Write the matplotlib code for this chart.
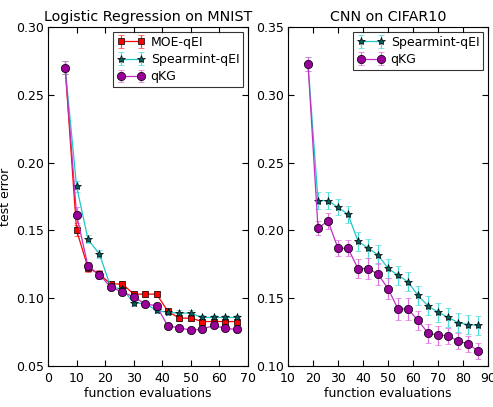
import numpy as np
import matplotlib
matplotlib.use("Agg")
import matplotlib.pyplot as plt

# Logistic regression on MNIST
mnist_x = [6, 10, 14, 18, 22, 26, 30, 34, 38, 42, 46, 50, 54, 58, 62, 66]
moe_mnist = [0.270, 0.150, 0.1225, 0.1176, 0.1105, 0.1105, 0.103, 0.103, 0.103,
             0.0902, 0.0853, 0.0853, 0.0828, 0.0828, 0.0828, 0.0828]
moe_mnist_err = [0.005, 0.004, 0.003, 0.003, 0.002, 0.002, 0.002, 0.002, 0.002,
                 0.002, 0.002, 0.002, 0.002, 0.002, 0.002, 0.002]
spear_mnist = [0.270, 0.1824, 0.1434, 0.1324, 0.108, 0.1069, 0.0966, 0.096, 0.091,
               0.0895, 0.089, 0.089, 0.0858, 0.0858, 0.0858, 0.0858]
spear_mnist_err = [0.005, 0.004, 0.003, 0.003, 0.002, 0.002, 0.002, 0.002, 0.002,
                   0.002, 0.002, 0.002, 0.002, 0.002, 0.002, 0.002]
qkg_mnist = [0.270, 0.1613, 0.1235, 0.1174, 0.108, 0.1047, 0.101, 0.0958, 0.0944,
             0.0792, 0.0784, 0.0762, 0.0772, 0.0799, 0.0777, 0.077]
qkg_mnist_err = [0.005, 0.006, 0.003, 0.003, 0.002, 0.002, 0.002, 0.002, 0.002,
                 0.002, 0.002, 0.002, 0.002, 0.002, 0.002, 0.002]

# CNN on CIFAR10
cifar_x = [18, 22, 26, 30, 34, 38, 42, 46, 50, 54, 58, 62, 66, 70, 74, 78, 82, 86]
spear_cifar = [0.3227, 0.222, 0.222, 0.217, 0.2118, 0.192, 0.187, 0.1819, 0.172,
               0.167, 0.162, 0.152, 0.1443, 0.1397, 0.136, 0.132, 0.1306, 0.1299]
spear_cifar_err = [0.005, 0.006, 0.006, 0.006, 0.006, 0.007, 0.007, 0.007, 0.007,
                   0.007, 0.007, 0.007, 0.007, 0.007, 0.007, 0.007, 0.007, 0.007]
qkg_cifar = [0.3227, 0.2017, 0.2069, 0.1868, 0.1868, 0.1718, 0.1718, 0.1677, 0.1571,
             0.142, 0.142, 0.1336, 0.1243, 0.1228, 0.1223, 0.1184, 0.1164, 0.111]
qkg_cifar_err = [0.005, 0.005, 0.006, 0.006, 0.006, 0.007, 0.008, 0.008, 0.008,
                 0.008, 0.008, 0.007, 0.007, 0.007, 0.006, 0.006, 0.006, 0.006]

plt.rcParams['font.family'] = 'DejaVu Sans'
plt.rcParams['xtick.direction'] = 'in'
plt.rcParams['ytick.direction'] = 'in'
plt.rcParams['xtick.top'] = True
plt.rcParams['ytick.right'] = True
plt.rcParams['xtick.major.size'] = 4
plt.rcParams['ytick.major.size'] = 4
plt.rcParams['xtick.major.pad'] = 4
plt.rcParams['ytick.major.pad'] = 3

fig = plt.figure(figsize=(4.93, 4.07), dpi=100)
ax1 = fig.add_axes([0.0974, 0.1007, 0.4057, 0.833])
ax2 = fig.add_axes([0.5842, 0.1007, 0.4057, 0.833])

styles = {
    'MOE-qEI': dict(color='red', ecolor='#ff4040', marker='s', mfc='red', ms=5),
    'Spearmint-qEI': dict(color='#20c8c8', ecolor='#50dada', marker='*', mfc='#006060', ms=6),
    'qKG': dict(color='#c030c0', ecolor='#e070e0', marker='o', mfc='#990099', ms=6),
}


def draw(ax, x, y, err, label):
    st = styles[label]
    ax.errorbar(x, y, yerr=err, color=st['color'], ecolor=st['ecolor'],
                marker=st['marker'], markerfacecolor=st['mfc'],
                markeredgecolor='k', markeredgewidth=0.5, markersize=st['ms'],
                linewidth=0.9, elinewidth=0.9, capsize=2.5, capthick=0.9,
                label=label)


draw(ax1, mnist_x, moe_mnist, moe_mnist_err, 'MOE-qEI')
draw(ax1, mnist_x, spear_mnist, spear_mnist_err, 'Spearmint-qEI')
draw(ax1, mnist_x, qkg_mnist, qkg_mnist_err, 'qKG')

draw(ax2, cifar_x, spear_cifar, spear_cifar_err, 'Spearmint-qEI')
draw(ax2, cifar_x, qkg_cifar, qkg_cifar_err, 'qKG')

ax1.set_xlim(0, 70)
ax1.set_ylim(0.05, 0.30)
ax1.set_xticks(np.arange(0, 71, 10))
ax1.set_yticks(np.arange(0.05, 0.301, 0.05))
ax1.set_yticklabels(['0.05', '0.10', '0.15', '0.20', '0.25', '0.30'])
ax1.set_title('Logistic Regression on MNIST', fontsize=10.3, pad=4)
ax1.set_xlabel('function evaluations', fontsize=9, labelpad=2)
ax1.set_ylabel('test error', fontsize=9, labelpad=3)

ax2.set_xlim(10, 90)
ax2.set_ylim(0.10, 0.35)
ax2.set_xticks(np.arange(10, 91, 10))
ax2.set_yticks(np.arange(0.10, 0.351, 0.05))
ax2.set_yticklabels(['0.10', '0.15', '0.20', '0.25', '0.30', '0.35'])
ax2.set_title('CNN on CIFAR10', fontsize=10.3, pad=4)
ax2.set_xlabel('function evaluations', fontsize=9, labelpad=2)

for ax in (ax1, ax2):
    ax.tick_params(labelsize=9)
    leg = ax.legend(loc='upper right', numpoints=2, fontsize=9, fancybox=False,
                    borderaxespad=0.4, handlelength=2.2, labelspacing=0.35,
                    borderpad=0.3, handletextpad=0.5)
    leg.get_frame().set_edgecolor('k')
    leg.get_frame().set_linewidth(0.8)

fig.savefig('out.png', dpi=100)
